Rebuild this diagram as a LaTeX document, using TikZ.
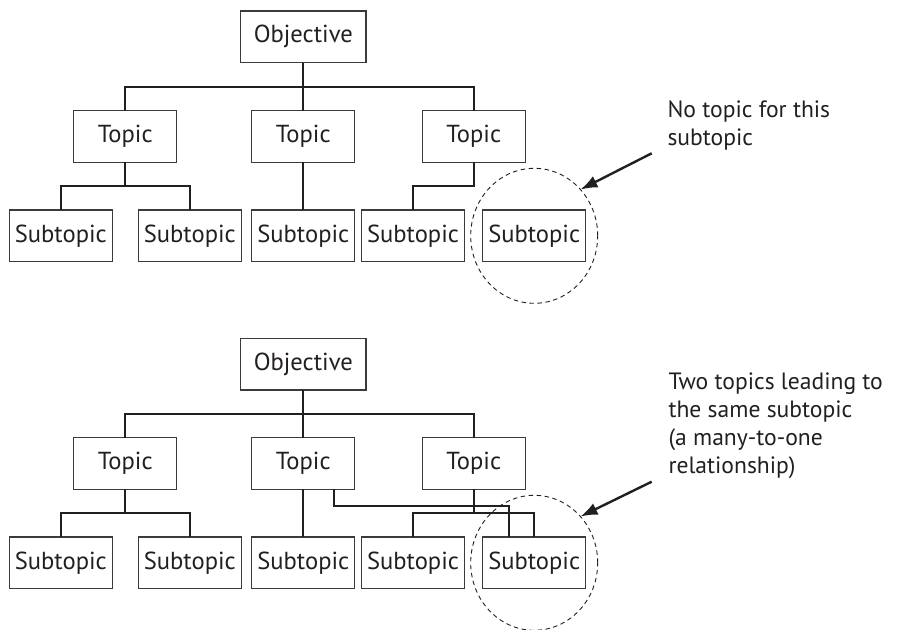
\documentclass[tikz,border=0pt]{standalone}
\usepackage{fontspec}
\setmainfont{PT Sans}
\usetikzlibrary{arrows.meta,shapes.geometric}
\definecolor{ink}{HTML}{231F20}
\definecolor{frame}{HTML}{3C3A3B}
\begin{document}
\begin{tikzpicture}[x=1pt,y=-1pt,
  box/.style={draw=frame, line width=1.3pt, minimum width=103pt, minimum height=51.6pt,
    inner sep=0pt, outer sep=0pt, text=ink, font=\fontsize{24.6}{29}\selectfont},
  objbox/.style={box, minimum width=125.3pt},
  conn/.style={draw=ink, line width=2pt},
  ring/.style={draw=ink, line width=0.9pt, dash pattern=on 4.5pt off 3.5pt, ellipse,
    minimum width=127pt, minimum height=135pt, inner sep=0pt, outer sep=0pt},
  pointer/.style={draw=ink, line width=2.4pt, -{Latex[length=17pt,width=12.5pt]}},
  note/.style={text=ink, font=\fontsize{23.6}{27.8}\selectfont, align=left,
    inner sep=0pt, anchor=base west},
]
\useasboundingbox (0,0) rectangle (918,629);

% ---------- upper tree: a subtopic with no topic ----------
\node[objbox] (oA) at (303.3,36.8) {Objective};
\node[box] (tA1) at (125.3,136.5) {Topic};
\node[box] (tA2) at (303.3,136.5) {Topic};
\node[box] (tA3) at (473.8,136.5) {Topic};
\node[box] (sA1) at (60.8,235.8) {Subtopic};
\node[box] (sA2) at (189.8,235.8) {Subtopic};
\node[box] (sA3) at (303.3,235.8) {Subtopic};
\node[box] (sA4) at (413.0,235.8) {Subtopic};
\node[box] (sA5) at (534.2,235.8) {Subtopic};

\coordinate (busA) at (0,87);
\coordinate (busB) at (0,186);
\draw[conn] (oA.south) -- (tA2.north);
\draw[conn] (tA1.north) |- (tA3.north |- busA) -- (tA3.north);
\draw[conn] (tA1.south) -- (tA1.south |- busB);
\draw[conn] (sA1.north) |- (sA2.north |- busB) -- (sA2.north);
\draw[conn] (tA2.south) -- (sA3.north);
\draw[conn] (tA3.south) |- (sA4.north |- busB) -- (sA4.north);

\node[ring] (rA) at (sA5) {};
\coordinate (pA) at (651.7,153.3);
\draw[pointer] (pA) -- (rA.45);
\node[note] (nA) at (667.3,145) {No topic for this\\subtopic};

% ---------- lower tree: two topics share one subtopic ----------
\node[objbox] (oB) at (303.3,364.2) {Objective};
\node[box] (tB1) at (125.3,463.5) {Topic};
\node[box] (tB2) at (303.3,463.5) {Topic};
\node[box] (tB3) at (473.8,463.5) {Topic};
\node[box] (sB1) at (60.8,562.8) {Subtopic};
\node[box] (sB2) at (189.8,562.8) {Subtopic};
\node[box] (sB3) at (303.3,562.8) {Subtopic};
\node[box] (sB4) at (413.0,562.8) {Subtopic};
\node[box] (sB5) at (534.2,562.8) {Subtopic};

\coordinate (busC) at (0,414);
\coordinate (busD) at (0,513.3);
\coordinate (joinB) at (509,505.7);
\draw[conn] (oB.south) -- (tB2.north);
\draw[conn] (tB1.north) |- (tB3.north |- busC) -- (tB3.north);
\draw[conn] (tB1.south) -- (tB1.south |- busD);
\draw[conn] (sB1.north) |- (sB2.north |- busD) -- (sB2.north);
\draw[conn] (tB2.south) -- (sB3.north);
\draw[conn] (tB3.south) -- (tB3.south |- busD);
\draw[conn] (sB4.north) |- (sB5.north |- busD) -- (sB5.north);
\draw[conn] ([xshift=30.7pt]tB2.south) |- (joinB) -- (joinB |- sB5.north);

\node[ring] (rB) at (sB5) {};
\coordinate (pB) at (651.7,481.7);
\draw[pointer] (pB) -- (rB.45);
\node[note] (nB) at (668.3,473.3) {Two topics leading to\\the same subtopic\\(a many-to-one\\relationship)};
\end{tikzpicture}
\end{document}
